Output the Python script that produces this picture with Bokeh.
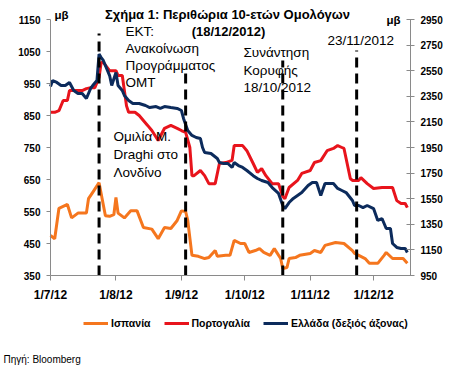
import pandas as pd
from bokeh.plotting import figure
from bokeh.models import Range1d, LinearAxis, FixedTicker, Label, Legend, LegendItem
from bokeh.embed import file_html
from bokeh.resources import INLINE

# ---------------- data ----------------
spain_dates = ["2012-07-01", "2012-07-03", "2012-07-05", "2012-07-09", "2012-07-11", "2012-07-14",
               "2012-07-18", "2012-07-19", "2012-07-21", "2012-07-24", "2012-07-27", "2012-07-29",
               "2012-07-31", "2012-08-01", "2012-08-02", "2012-08-05", "2012-08-08", "2012-08-11",
               "2012-08-14", "2012-08-18", "2012-08-21", "2012-08-24", "2012-08-27", "2012-08-30",
               "2012-09-01", "2012-09-03", "2012-09-04", "2012-09-06", "2012-09-09", "2012-09-12",
               "2012-09-14", "2012-09-17", "2012-09-18", "2012-09-22", "2012-09-24", "2012-09-26",
               "2012-09-29", "2012-10-01", "2012-10-03", "2012-10-06", "2012-10-08", "2012-10-10",
               "2012-10-13", "2012-10-15", "2012-10-18", "2012-10-19", "2012-10-21", "2012-10-22",
               "2012-10-25", "2012-10-27", "2012-11-01", "2012-11-03", "2012-11-06", "2012-11-08",
               "2012-11-13", "2012-11-17", "2012-11-21", "2012-11-22", "2012-11-24", "2012-11-27",
               "2012-11-29", "2012-12-03", "2012-12-06", "2012-12-07", "2012-12-10", "2012-12-13",
               "2012-12-15", "2012-12-17"]
spain_values = [475, 465, 560, 572, 530, 545,
                545, 590, 610, 640, 537, 535,
                540, 594, 545, 530, 552, 552,
                500, 495, 465, 500, 497, 522,
                552, 550, 522, 413, 410, 403,
                406, 428, 410, 413, 413, 460,
                450, 450, 422, 428, 434, 422,
                413, 434, 403, 372, 375, 403,
                406, 413, 419, 428, 422, 444,
                453, 450, 428, 419, 413, 403,
                388, 388, 413, 422, 403, 403,
                403, 388]

portugal_dates = ["2012-07-01", "2012-07-03", "2012-07-05", "2012-07-07", "2012-07-09", "2012-07-10",
                  "2012-07-13", "2012-07-16", "2012-07-18", "2012-07-20", "2012-07-22", "2012-07-24",
                  "2012-07-25", "2012-07-26", "2012-07-29", "2012-08-01", "2012-08-02", "2012-08-04",
                  "2012-08-06", "2012-08-07", "2012-08-10", "2012-08-12", "2012-08-16", "2012-08-18",
                  "2012-08-21", "2012-08-24", "2012-08-27", "2012-08-30", "2012-09-01", "2012-09-03",
                  "2012-09-05", "2012-09-06", "2012-09-07", "2012-09-10", "2012-09-12", "2012-09-14",
                  "2012-09-17", "2012-09-19", "2012-09-22", "2012-09-25", "2012-09-26", "2012-09-30",
                  "2012-10-02", "2012-10-05", "2012-10-07", "2012-10-09", "2012-10-11", "2012-10-14",
                  "2012-10-17", "2012-10-19", "2012-10-20", "2012-10-22", "2012-10-26", "2012-10-28",
                  "2012-11-01", "2012-11-03", "2012-11-06", "2012-11-09", "2012-11-12", "2012-11-14",
                  "2012-11-16", "2012-11-17", "2012-11-20", "2012-11-21", "2012-11-24", "2012-11-25",
                  "2012-11-28", "2012-12-01", "2012-12-05", "2012-12-10", "2012-12-12", "2012-12-14",
                  "2012-12-16", "2012-12-17"]
portugal_values = [860, 860, 865, 897, 897, 928,
                   928, 928, 934, 937, 937, 969,
                   1016, 1016, 990, 990, 975, 975,
                   880, 860, 860, 850, 819, 803,
                   772, 810, 819, 810, 803, 797,
                   750, 662, 662, 678, 662, 637,
                   637, 700, 703, 710, 756, 756,
                   740, 700, 672, 684, 662, 637,
                   637, 597, 590, 625, 647, 669,
                   678, 703, 709, 740, 747, 756,
                   750, 747, 653, 647, 647, 656,
                   637, 622, 625, 625, 584, 575,
                   575, 562]

greece_dates = ["2012-07-01", "2012-07-02", "2012-07-04", "2012-07-06", "2012-07-08", "2012-07-10",
                "2012-07-12", "2012-07-14", "2012-07-16", "2012-07-18", "2012-07-20", "2012-07-21",
                "2012-07-23", "2012-07-24", "2012-07-25", "2012-07-26", "2012-07-29", "2012-07-30",
                "2012-08-01", "2012-08-02", "2012-08-04", "2012-08-05", "2012-08-07", "2012-08-09",
                "2012-08-12", "2012-08-15", "2012-08-17", "2012-08-20", "2012-08-22", "2012-08-24",
                "2012-08-27", "2012-08-30", "2012-09-01", "2012-09-02", "2012-09-04", "2012-09-06",
                "2012-09-08", "2012-09-10", "2012-09-11", "2012-09-12", "2012-09-15", "2012-09-18",
                "2012-09-19", "2012-09-21", "2012-09-23", "2012-09-25", "2012-09-26", "2012-09-28",
                "2012-09-30", "2012-10-02", "2012-10-05", "2012-10-07", "2012-10-09", "2012-10-12",
                "2012-10-14", "2012-10-17", "2012-10-19", "2012-10-20", "2012-10-22", "2012-10-24",
                "2012-10-26", "2012-10-28", "2012-10-31", "2012-11-02", "2012-11-04", "2012-11-06",
                "2012-11-08", "2012-11-12", "2012-11-14", "2012-11-16", "2012-11-18", "2012-11-21",
                "2012-11-22", "2012-11-24", "2012-11-26", "2012-11-28", "2012-12-01", "2012-12-03",
                "2012-12-05", "2012-12-07", "2012-12-09", "2012-12-10", "2012-12-12", "2012-12-14",
                "2012-12-16", "2012-12-17"]
greece_values = [2427, 2473, 2458, 2434, 2434, 2458,
                 2395, 2372, 2372, 2333, 2411, 2434,
                 2473, 2680, 2653, 2630, 2512, 2434,
                 2536, 2434, 2395, 2356, 2317, 2294,
                 2294, 2278, 2262, 2270, 2255, 2270,
                 2262, 2255, 2239, 2177, 2083, 2044,
                 2028, 2020, 1950, 1911, 1903, 1864,
                 1833, 1825, 1825, 1794, 1833, 1809,
                 1794, 1770, 1730, 1708, 1692, 1677,
                 1637, 1591, 1497, 1473, 1520, 1552,
                 1575, 1598, 1653, 1677, 1677, 1575,
                 1669, 1669, 1630, 1614, 1598, 1536,
                 1497, 1497, 1481, 1497, 1473, 1380,
                 1395, 1317, 1317, 1200, 1169, 1161,
                 1161, 1130]

event_dates = ["2012-07-24", "2012-09-03", "2012-10-19", "2012-11-23"]
event_tops = [1106, 991, 1022, 1053]

xtick_dates = ["2012-07-01", "2012-08-01", "2012-09-01", "2012-10-01", "2012-11-01", "2012-12-01"]
xtick_labels = ["1/7/12", "1/8/12", "1/9/12", "1/10/12", "1/11/12", "1/12/12"]
left_ticks = [350, 450, 550, 650, 750, 850, 950, 1050, 1150]
right_ticks = [950, 1150, 1350, 1550, 1750, 1950, 2150, 2350, 2550, 2750, 2950]

series_names = ["Ισπανία", "Πορτογαλία", "Ελλάδα (δεξιός άξονας)"]
series_colors = ["#F5761E", "#E8141C", "#0C2B5C"]

FONT = "Liberation Sans"

# ---------------- layout geometry (pixels in the figure) ----------------
W, H = 443, 366
AX_L, AX_R, AX_T, AX_B = 50, 410, 19, 275     # plotting box inside the figure
X0 = pd.Timestamp("2012-07-01")
X1 = pd.Timestamp("2012-12-18 12:00")
YL0, YL1 = 350, 1150
YR0, YR1 = 950, 2950


def to_dt(lst):
    return pd.to_datetime(lst)


def to_ms(t):
    return float(pd.Timestamp(t).value // 10**6)


# extend ranges so that the frame covers the whole figure (no clipping of texts)
ms0, ms1 = to_ms(X0), to_ms(X1)
ppx = (AX_R - AX_L) / (ms1 - ms0)
xr = Range1d(pd.Timestamp(ms0 - AX_L / ppx, unit="ms"), pd.Timestamp(ms1 + (W - AX_R) / ppx, unit="ms"))
ppl = (AX_B - AX_T) / (YL1 - YL0)
yl = Range1d(YL0 - (H - AX_B) / ppl, YL1 + AX_T / ppl)
ppr = (AX_B - AX_T) / (YR1 - YR0)
yr = Range1d(YR0 - (H - AX_B) / ppr, YR1 + AX_T / ppr)

p = figure(width=W, height=H, x_axis_type="datetime",
           output_backend="svg", toolbar_location=None,
           x_range=xr, y_range=yl,
           min_border_left=0, min_border_right=0, min_border_top=0, min_border_bottom=0)
p.outline_line_color = None
p.xgrid.visible = False
p.ygrid.visible = False
p.background_fill_color = "white"
p.border_fill_color = "white"
p.extra_y_ranges = {"gr": yr}

r_es = p.line(to_dt(spain_dates), spain_values, line_color=series_colors[0], line_width=3)
r_pt = p.line(to_dt(portugal_dates), portugal_values, line_color=series_colors[1], line_width=3)
r_gr = p.line(to_dt(greece_dates), greece_values, line_color=series_colors[2], line_width=3,
              y_range_name="gr")

ev = to_dt(event_dates)
p.segment(x0=ev, x1=ev, y0=[YL0] * len(event_dates), y1=event_tops,
          line_color="black", line_width=3, line_dash="10 6")

# axes (fixed to the plotting box)
AXC = "#8a8a8a"
xa = p.xaxis[0]
xa.fixed_location = YL0
xa.bounds = (ms0, ms1)
xa.ticker = FixedTicker(ticks=[to_ms(d) for d in xtick_dates])
xa.major_label_overrides = {to_ms(d): lab for d, lab in zip(xtick_dates, xtick_labels)}
xa.major_tick_in = 0
xa.major_tick_out = 5
xa.major_label_standoff = 7
xa.major_label_text_font_size = "12px"

ya = p.yaxis[0]
ya.fixed_location = ms0
ya.bounds = (YL0, YL1)
ya.ticker = FixedTicker(ticks=left_ticks)
ya.major_tick_in = 0
ya.major_tick_out = 4
ya.major_label_standoff = 6
ya.major_label_text_font_size = "10px"

ra = LinearAxis(y_range_name="gr", ticker=FixedTicker(ticks=right_ticks))
ra.fixed_location = ms1
ra.bounds = (YR0, YR1)
ra.major_tick_in = 4
ra.major_tick_out = 4
ra.major_label_standoff = 6
ra.major_label_text_font_size = "10px"
p.add_layout(ra, "right")

for ax in (xa, ya, ra):
    ax.axis_line_color = AXC
    ax.axis_line_width = 1
    ax.major_tick_line_color = AXC
    ax.minor_tick_line_color = None
    ax.major_label_text_font = FONT
    ax.major_label_text_font_style = "bold"
    ax.major_label_text_color = "black"


# texts: x from the left, y from the top of the figure
def add_text(txt, x, y, size="13.5px", style="normal", align="left"):
    p.add_layout(Label(x=x, y=H - y, x_units="screen", y_units="screen", text=txt,
                       text_font=FONT, text_font_size=size, text_font_style=style,
                       text_align=align, text_baseline="middle", text_color="black"))


add_text("Σχήμα 1: Περιθώρια 10-ετών Ομολόγων", 227, 14, size="13px", style="bold", align="center")
add_text("(18/12/2012)", 228, 31, size="13px", style="bold", align="center")
add_text("μβ", 54, 14, size="11.5px", style="bold")
add_text("μβ", 386, 19, size="11.5px", style="bold")

for i, t in enumerate(["ΕΚΤ:", "Ανακοίνωση", "Προγράμματος", "ΟΜΤ"]):
    add_text(t, 125, 31 + 16.9 * i)
for i, t in enumerate(["Ομιλία Μ.", "Draghi στο", "Λονδίνο"]):
    add_text(t, 113, 136 + 17.8 * i)
for i, t in enumerate(["Συνάντηση", "Κορυφής", "18/10/2012"]):
    add_text(t, 243, 52 + 17.7 * i)
add_text("23/11/2012", 327, 40)

add_text("Πηγή: Bloomberg", 3, 359, size="10px")

legend = Legend(items=[LegendItem(label=series_names[0], renderers=[r_es]),
                       LegendItem(label=series_names[1], renderers=[r_pt]),
                       LegendItem(label=series_names[2], renderers=[r_gr])],
                orientation="horizontal", location=(83, H - 329),
                padding=0, margin=0, spacing=13, glyph_width=25, glyph_height=12,
                label_height=12, label_standoff=3,
                label_text_font=FONT, label_text_font_size="10.5px",
                label_text_font_style="bold", label_text_color="black",
                border_line_color=None, background_fill_alpha=0)
p.add_layout(legend)

open("out.html", "w").write(file_html(p, INLINE))
